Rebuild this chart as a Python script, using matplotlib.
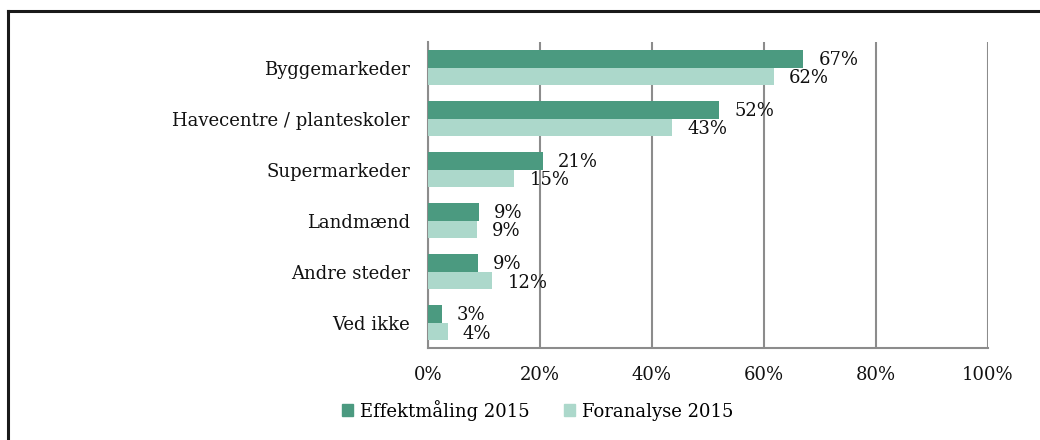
import matplotlib

matplotlib.use("Agg")
import matplotlib.pyplot as plt
from matplotlib.lines import Line2D
from matplotlib.patches import Patch
from matplotlib.ticker import FuncFormatter

categories = ["Byggemarkeder", "Havecentre / planteskoler", "Supermarkeder",
              "Landmænd", "Andre steder", "Ved ikke"]
effekt_2015 = [67, 52, 20.5, 9.1, 8.9, 2.5]
foranalyse_2015 = [61.8, 43.6, 15.4, 8.8, 11.5, 3.5]
effekt_labels = ["67%", "52%", "21%", "9%", "9%", "3%"]
foranalyse_labels = ["62%", "43%", "15%", "9%", "12%", "4%"]
series_names = ["Effektmåling 2015", "Foranalyse 2015"]

DARK = "#4b9a80"
LIGHT = "#acd8cb"
GRID = "#8c8c8c"
FS = 13

plt.rcParams["font.family"] = ["DejaVu Serif"]

fig = plt.figure(figsize=(10.4, 4.4), dpi=100)
ax = fig.add_axes([0.4115, 0.209, 0.5385, 0.6955])

y = range(len(categories))
h = 0.35
ax.barh([i - h / 2 for i in y], effekt_2015, height=h, color=DARK, zorder=3)
ax.barh([i + h / 2 for i in y], foranalyse_2015, height=h, color=LIGHT, zorder=3)

# value labels, offset a little past the bar ends like the original
for i in y:
    ax.text(effekt_2015[i] + 2.7, i - h / 2 + 0.02, effekt_labels[i],
            va="center", ha="left", fontsize=FS, color="#111111", zorder=4)
    ax.text(foranalyse_2015[i] + 2.7, i + h / 2 + 0.04, foranalyse_labels[i],
            va="center", ha="left", fontsize=FS, color="#111111", zorder=4)

ax.set_xlim(0, 100)
ax.set_ylim(len(categories) - 0.5, -0.5)
ax.set_xticks(range(0, 101, 20))
ax.xaxis.set_major_formatter(FuncFormatter(lambda v, _: f"{int(v)}%"))
ax.set_yticks(list(y))
ax.set_yticklabels(categories)
ax.tick_params(axis="both", length=0, labelsize=FS, colors="#111111")
ax.tick_params(axis="x", pad=13)
ax.tick_params(axis="y", pad=13)

ax.grid(axis="x", color=GRID, linewidth=1.5, zorder=0)
for side in ["top", "right"]:
    ax.spines[side].set_visible(False)
for side in ["left", "bottom"]:
    ax.spines[side].set_color(GRID)
    ax.spines[side].set_linewidth(1.5)

handles = [Patch(color=DARK), Patch(color=LIGHT)]
fig.legend(handles, series_names, loc="center", bbox_to_anchor=(0.517, 0.068),
           ncol=2, frameon=False, fontsize=FS, handlelength=0.6,
           handleheight=0.6, handletextpad=0.4, columnspacing=1.9)

# outer frame (top and left edges only)
fig.add_artist(Line2D([8 / 1040, 1], [1 - 11 / 440, 1 - 11 / 440],
                      transform=fig.transFigure, color="#1a1a1a", linewidth=2.2))
fig.add_artist(Line2D([8 / 1040, 8 / 1040], [0, 1 - 11 / 440],
                      transform=fig.transFigure, color="#1a1a1a", linewidth=2.2))

fig.savefig("out.png", dpi=100)
